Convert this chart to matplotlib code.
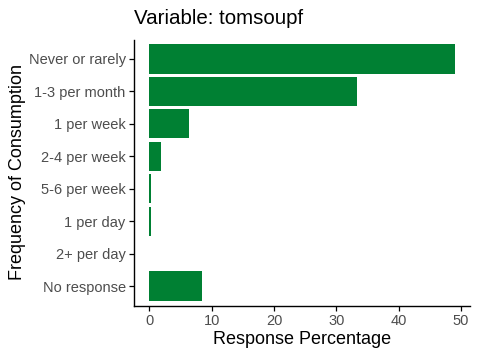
import matplotlib.pyplot as plt

plt.rcParams['font.family'] = ['Liberation Sans', 'DejaVu Sans']

categories = ['Never or rarely', '1-3 per month', '1 per week', '2-4 per week',
              '5-6 per week', '1 per day', '2+ per day', 'No response']
percentages = [49.0, 33.4, 6.4, 1.9, 0.2, 0.2, 0.0, 8.5]
xticks = [0, 10, 20, 30, 40, 50]

fig = plt.figure(figsize=(4.8, 3.6), dpi=100)
ax = fig.add_axes([134 / 480, 1 - 305.5 / 360, 336 / 480, 266 / 360])

ypos = list(range(len(categories), 0, -1))
ax.barh(ypos, percentages, height=0.9, color='#008033')

ax.set_ylim(0.4, len(categories) + 0.6)
ax.set_yticks(ypos)
ax.set_yticklabels(categories)
ax.set_xlim(-2.45, 51.45)
ax.set_xticks(xticks)

for side in ['top', 'right']:
    ax.spines[side].set_visible(False)
for side in ['left', 'bottom']:
    ax.spines[side].set_linewidth(1.0)
ax.tick_params(axis='both', colors='black', labelcolor='#4D4D4D',
               labelsize=10.5, length=3.5, width=0.9, pad=2.5)

ax.set_xlabel('Response Percentage', fontsize=13)
ax.set_ylabel('Frequency of Consumption', fontsize=13)
ax.xaxis.set_label_coords(0.5, -(340 - 305.5) / 266, transform=ax.transAxes)
ax.yaxis.set_label_coords(-(134 - 17.5) / 336, 0.5)
ax.xaxis.label.set_va('center')
ax.yaxis.label.set_va('center')
fig.text(134 / 480, 1 - 18 / 360, 'Variable: tomsoupf', fontsize=14.8,
         ha='left', va='center')

fig.savefig('out.png', dpi=100)
